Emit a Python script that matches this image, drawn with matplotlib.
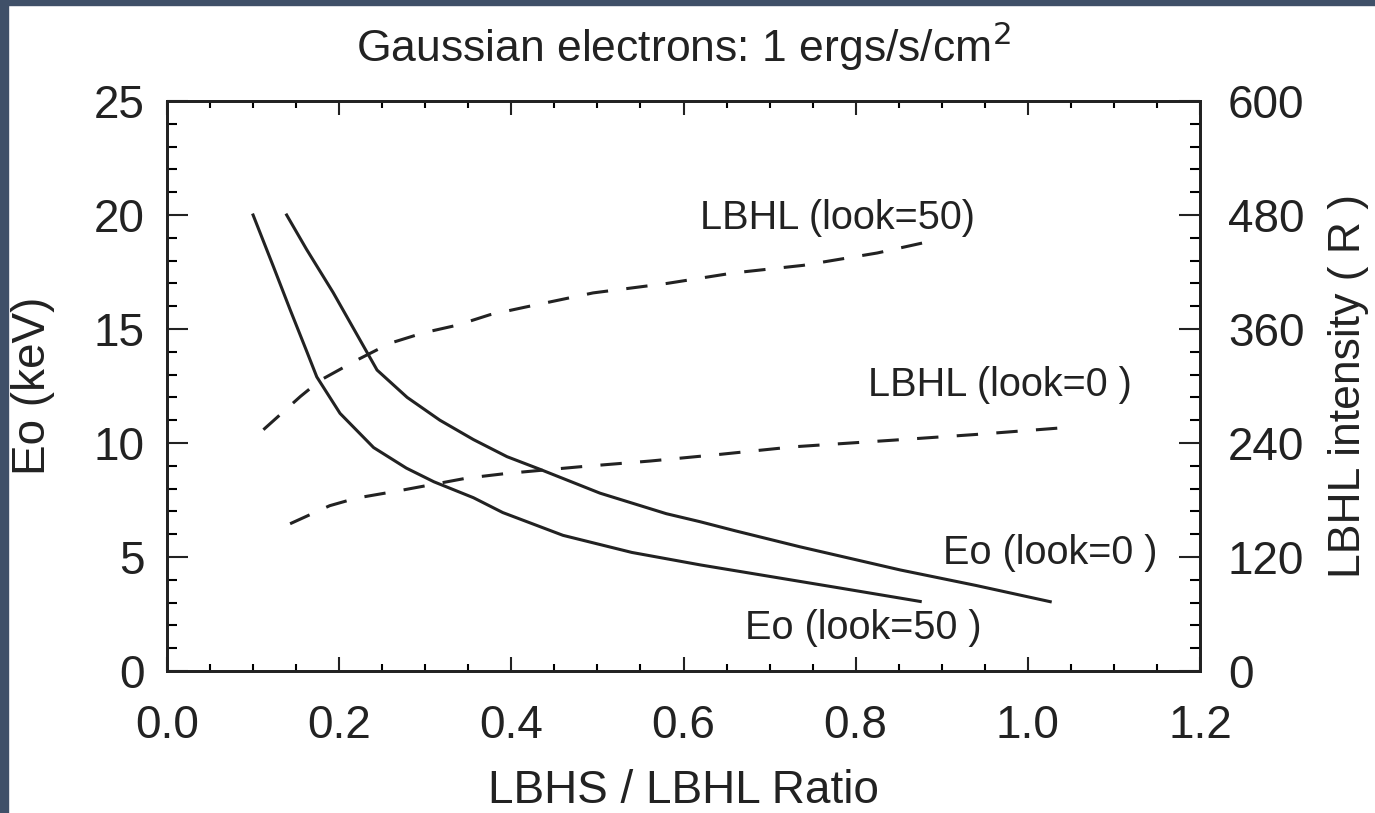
import numpy as np
import matplotlib
matplotlib.use("Agg")
from matplotlib import pyplot as plt
from matplotlib.ticker import MultipleLocator
from matplotlib.patches import Rectangle

plt.rcParams['font.family'] = ['Liberation Sans', 'DejaVu Sans']

# Eo curves (keV, left axis)
eo50_ratio = [0.100, 0.124, 0.143, 0.162, 0.174, 0.201, 0.240, 0.278, 0.310, 0.356,
              0.390, 0.460, 0.540, 0.620, 0.700, 0.780, 0.875]
eo50_kev = [20.0, 17.7, 15.85, 14.05, 12.9, 11.3, 9.8, 8.9, 8.3, 7.6,
            6.95, 5.95, 5.2, 4.65, 4.15, 3.65, 3.05]

eo0_ratio = [0.139, 0.162, 0.193, 0.220, 0.244, 0.279, 0.317, 0.356, 0.395, 0.433,
             0.503, 0.580, 0.619, 0.660, 0.735, 0.852, 0.940, 1.026]
eo0_kev = [20.0, 18.5, 16.6, 14.8, 13.2, 12.0, 11.0, 10.15, 9.4, 8.85,
           7.8, 6.9, 6.55, 6.15, 5.45, 4.43, 3.75, 3.04]

# LBHL intensity curves (R, right axis)
lbhl50_ratio = [0.112, 0.155, 0.178, 0.220, 0.259, 0.298, 0.337, 0.375, 0.416,
                0.495, 0.581, 0.658, 0.739, 0.825, 0.880]
lbhl50_R = [254, 289, 306, 327, 345, 356, 364, 375, 383,
            398, 408, 419, 427, 440, 451]

lbhl0_ratio = [0.143, 0.189, 0.220, 0.271, 0.348, 0.395, 0.480, 0.561, 0.642,
               0.728, 0.844, 0.940, 1.040]
lbhl0_R = [155, 174, 182, 190, 203, 208, 215, 221, 228,
           236, 243, 249, 256]

fs = 33
ink = '#222222'
fig = plt.figure(figsize=(13.75, 8.13), dpi=100)
fig.patch.set_facecolor('white')
# dark frame strips of the screenshot
fig.patches.append(Rectangle((0, 0), 8/1375, 1, transform=fig.transFigure, color='#3f5068', zorder=0))
fig.patches.append(Rectangle((0, 1 - 5/813), 1, 5/813, transform=fig.transFigure, color='#3f5068', zorder=0))

ax = fig.add_axes([167/1375, 1 - 671/813, (1200-167)/1375, (671-101)/813])
ax2 = ax.twinx()

ax.plot(eo50_ratio, eo50_kev, color=ink, lw=2.2)
ax.plot(eo0_ratio, eo0_kev, color=ink, lw=2.2)
ax2.plot(lbhl50_ratio, lbhl50_R, color=ink, lw=2.2, dashes=(7, 6))
ax2.plot(lbhl0_ratio, lbhl0_R, color=ink, lw=2.2, dashes=(7, 6))

ax.set_xlim(0, 1.2)
ax.set_ylim(0, 25)
ax2.set_ylim(0, 600)

ax.xaxis.set_major_locator(MultipleLocator(0.2))
ax.xaxis.set_minor_locator(MultipleLocator(0.05))
ax.yaxis.set_major_locator(MultipleLocator(5))
ax.yaxis.set_minor_locator(MultipleLocator(1))
ax2.yaxis.set_major_locator(MultipleLocator(120))
ax2.yaxis.set_minor_locator(MultipleLocator(24))
ax.xaxis.set_major_formatter(plt.FuncFormatter(lambda v, p: "%.1f" % v))

ax.tick_params(axis='x', which='major', direction='in', top=True, length=10, width=1.5,
               labelsize=fs, pad=24, colors=ink)
ax.tick_params(axis='x', which='minor', direction='in', top=True, length=5, width=1.5)
ax.tick_params(axis='y', which='major', direction='in', length=15, width=1.5,
               labelsize=fs, pad=16, colors=ink)
ax.tick_params(axis='y', which='minor', direction='in', length=7, width=1.5)
ax2.tick_params(axis='y', which='major', direction='in', length=15, width=1.5,
                labelsize=fs, pad=20, colors=ink)
ax2.tick_params(axis='y', which='minor', direction='in', length=7, width=1.5)

for a in (ax, ax2):
    for s in a.spines.values():
        s.set_linewidth(2)
        s.set_color(ink)

ax.set_xlabel("LBHS / LBHL Ratio", fontsize=fs, color=ink, labelpad=15)
ax.set_ylabel("Eo (keV)", fontsize=fs, color=ink, labelpad=28)
ax2.set_ylabel("LBHL intensity ( R )", fontsize=fs - 1, color=ink, labelpad=17)
ax.set_title("Gaussian electrons: 1 ergs/s/cm$^2$", fontsize=fs - 1, color=ink, pad=28)

afs = 28.5
ax.text(0.619, 19.87, "LBHL (look=50)", fontsize=afs, color=ink, va='center')
ax.text(0.814, 12.54, "LBHL (look=0 )", fontsize=afs, color=ink, va='center')
ax.text(0.901, 5.18, "Eo (look=0 )", fontsize=afs, color=ink, va='center')
ax.text(0.671, 1.89, "Eo (look=50 )", fontsize=afs, color=ink, va='center')

plt.savefig("out.png", dpi=100)
